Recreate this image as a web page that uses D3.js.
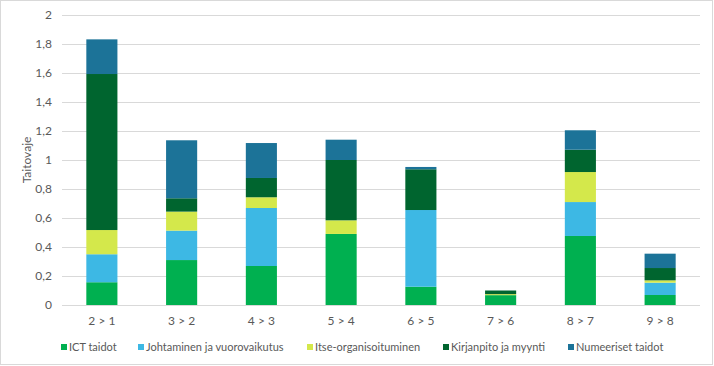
<!DOCTYPE html>
<html>
<head>
<meta charset="utf-8">
<script src="https://cdn.jsdelivr.net/npm/d3@7"></script>
<style>
  html, body { margin: 0; padding: 0; background: #fff; }
  svg { display: block; }
  text { font-family: Lato, "Open Sans", sans-serif; fill: #595959; }
</style>
</head>
<body>
<svg id="chart" width="714" height="366"></svg>
<script>
const categories = ["2 > 1", "3 > 2", "4 > 3", "5 > 4", "6 > 5", "7 > 6", "8 > 7", "9 > 8"];
const seriesNames = ["ICT taidot", "Johtaminen ja vuorovaikutus", "Itse-organisoituminen", "Kirjanpito ja myynti", "Numeeriset taidot"];
const ictTaidot     = [0.157, 0.310, 0.269, 0.490, 0.126, 0.068, 0.476, 0.069];
const johtaminen    = [0.193, 0.203, 0.400, 0.000, 0.529, 0.000, 0.234, 0.085];
const itseOrg       = [0.167, 0.131, 0.074, 0.094, 0.000, 0.007, 0.207, 0.016];
const kirjanpito    = [1.076, 0.092, 0.133, 0.416, 0.281, 0.025, 0.154, 0.085];
const numeeriset    = [0.239, 0.400, 0.241, 0.140, 0.016, 0.000, 0.134, 0.099];
const yTicks = [0, 0.2, 0.4, 0.6, 0.8, 1, 1.2, 1.4, 1.6, 1.8, 2];
const yTitle = "Taitovaje";
const colors = ["#00B050", "#3DB8E4", "#D4E84B", "#00652F", "#1C7398"];

const seriesValues = [ictTaidot, johtaminen, itseOrg, kirjanpito, numeeriset];
const rows = categories.map((c, i) => {
  const r = { cat: c };
  seriesNames.forEach((s, j) => r[s] = seriesValues[j][i]);
  return r;
});
const stacked = d3.stack().keys(seriesNames)(rows);

const svg = d3.select("#chart");
const plot = { left: 62, right: 700, top: 15, bottom: 305 };

// outer border
svg.append("rect").attr("x", 0.5).attr("y", 0.5).attr("width", 712).attr("height", 364)
  .attr("fill", "#fff").attr("stroke", "#d9d9d9");

const x = d3.scaleBand().domain(categories).range([plot.left, plot.right]).paddingInner(0.61).paddingOuter(0.305);
const y = d3.scaleLinear().domain([0, 2]).range([plot.bottom, plot.top]);
const fmt = v => String(v).replace(".", ",");

// gridlines
const yAxis = d3.axisLeft(y).tickValues(yTicks).tickFormat(fmt).tickSize(-(plot.right - plot.left)).tickPadding(10);
const gy = svg.append("g").attr("transform", `translate(${plot.left},0)`).call(yAxis);
gy.select(".domain").remove();
gy.selectAll(".tick line").attr("stroke", "#d9d9d9").attr("stroke-width", 1);
gy.selectAll(".tick text").attr("font-size", "12px").attr("fill", "#595959")
  .style("font-family", "Lato, 'Open Sans', sans-serif");

// bars
svg.append("g").selectAll("g").data(stacked).join("g")
  .attr("fill", (d, i) => colors[i])
  .selectAll("rect").data(d => d).join("rect")
  .attr("x", d => x(d.data.cat))
  .attr("width", x.bandwidth())
  .attr("y", d => y(d[1]))
  .attr("height", d => Math.max(0, y(d[0]) - y(d[1])));

// x axis
const xAxis = d3.axisBottom(x).tickSize(0).tickPadding(11);
const gx = svg.append("g").attr("transform", `translate(0,${plot.bottom})`).call(xAxis);
gx.select(".domain").remove();
gx.selectAll(".tick text").attr("font-size", "12px").attr("fill", "#595959")
  .style("font-family", "Lato, 'Open Sans', sans-serif");

// y title
svg.append("text").attr("transform", `translate(31,${(plot.top + plot.bottom) / 2}) rotate(-90)`)
  .attr("text-anchor", "middle").attr("font-size", "12px").text(yTitle);

// legend
const legendX = [61, 138, 307, 443, 568];
const lg = svg.append("g").selectAll("g").data(seriesNames).join("g")
  .attr("transform", (d, i) => `translate(${legendX[i]},347)`);
lg.append("rect").attr("x", 0).attr("y", -3).attr("width", 6).attr("height", 6).attr("fill", (d, i) => colors[i]);
lg.append("text").attr("x", 8).attr("y", 0).attr("dy", "0.35em").attr("font-size", "11px").text(d => d);
</script>
</body>
</html>
